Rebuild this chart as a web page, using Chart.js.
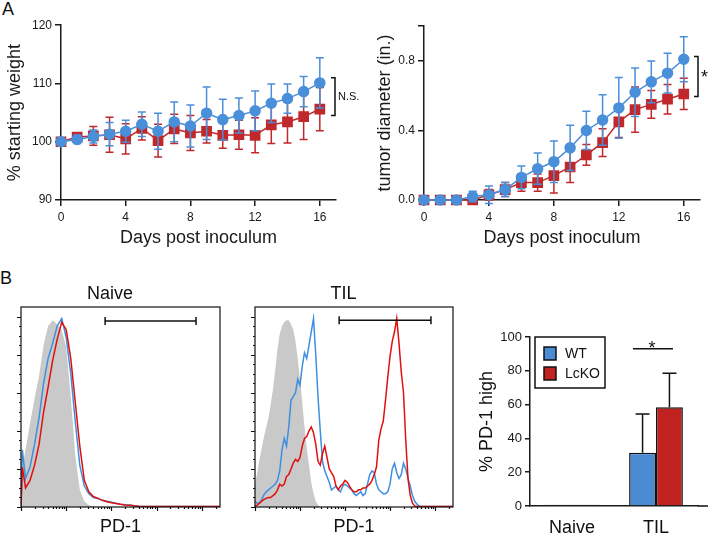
<!DOCTYPE html>
<html>
<head>
<meta charset="utf-8">
<script src="https://cdn.jsdelivr.net/npm/chart.js@4.4.1/dist/chart.umd.min.js"></script>
<style>
html, body { margin: 0; padding: 0; background: #fff; width: 711px; height: 534px; overflow: hidden; }
.pane { position: absolute; }
.tag { position: absolute; font: 18px "Liberation Sans", Arial, sans-serif; line-height: 1; color: #111; }
</style>
</head>
<body>
<div class="tag" style="left:2px;top:0px">A</div>
<div class="tag" style="left:0px;top:269px">B</div>
<div class="pane" style="left:0;top:15px;width:372px;height:235px"><canvas id="weight"></canvas></div>
<div class="pane" style="left:370px;top:16px;width:341px;height:234px"><canvas id="tumor"></canvas></div>
<div class="pane" style="left:0;top:280px;width:240px;height:261px"><canvas id="naive"></canvas></div>
<div class="pane" style="left:234px;top:280px;width:240px;height:261px"><canvas id="til"></canvas></div>
<div class="pane" style="left:470px;top:320px;width:241px;height:220px"><canvas id="pd1"></canvas></div>
<script>
// ---- panel A: weight and tumor growth ----
const days = [0, 1, 2, 3, 4, 5, 6, 7, 8, 9, 10, 11, 12, 13, 14, 15, 16];
const weightWT = [100, 100.4, 100.9, 101.3, 101.8, 103.0, 101.8, 103.4, 102.7, 104.9, 103.8, 104.5, 105.3, 106.6, 107.4, 108.6, 110.1];
const weightWTErr = [0.2, 0.7, 1.1, 2.0, 1.9, 2.1, 3.1, 3.4, 3.6, 4.5, 3.5, 3.0, 3.4, 3.3, 2.5, 2.6, 4.3];
const weightKO = [100, 100.8, 101.0, 101.2, 100.5, 102.3, 100.2, 102.2, 101.5, 101.8, 101.1, 101.2, 101.1, 102.9, 103.4, 104.3, 105.6];
const weightKOErr = [0.2, 0.6, 1.6, 3.0, 2.6, 2.0, 2.8, 2.5, 3.0, 2.0, 2.2, 2.5, 3.0, 3.2, 3.6, 3.9, 3.7];
const weightTicks = [90, 100, 110, 120];

const tumorWT = [0, 0, 0, 0.02, 0.03, 0.06, 0.13, 0.18, 0.22, 0.30, 0.40, 0.46, 0.53, 0.62, 0.68, 0.73, 0.81];
const tumorWTErr = [0, 0, 0, 0.03, 0.05, 0.04, 0.065, 0.09, 0.12, 0.13, 0.11, 0.145, 0.175, 0.14, 0.12, 0.115, 0.13];
const tumorKO = [0, 0, 0, 0, 0.03, 0.06, 0.10, 0.10, 0.14, 0.19, 0.26, 0.33, 0.45, 0.52, 0.55, 0.58, 0.61];
const tumorKOErr = [0, 0, 0, 0.01, 0.03, 0.04, 0.05, 0.05, 0.10, 0.09, 0.06, 0.08, 0.09, 0.13, 0.08, 0.085, 0.09];
const tumorTicks = [0, 0.4, 0.8, 1.0];

// ---- panel B: PD-1 histograms (x in decades, y in % of max) ----
const naiveX = [0, 0.03, 0.1, 0.2, 0.3, 0.4, 0.5, 0.6, 0.7, 0.8, 0.9, 1.0, 1.1, 1.2, 1.3, 1.4, 1.5, 1.6,
  1.7, 1.8, 1.9, 2.0, 2.1, 2.2, 2.3, 2.4, 2.5, 2.6, 2.7, 2.8, 2.9, 3.0, 4.4];
const naiveIso = [0, 21, 30, 44, 57, 69, 85, 95, 98, 96, 93, 84, 58, 27, 9, 3, 1, 0.3, 0];
const naiveWT = [0, 30, 15, 21, 33, 47, 65, 78, 86, 95, 99, 89, 70, 45, 22, 11, 7, 5,
  4.5, 3.5, 3, 2.5, 2, 1.5, 1.2, 1, 0.6, 0.4, 0.3, 0.3, 0.3, 0.3, 0.3];
const naiveKO = [0, 21, 10, 14, 22, 33, 50, 63, 77, 88, 97, 93, 78, 55, 32, 14, 8, 5.5,
  4.5, 3.5, 2.8, 2.2, 1.8, 1.4, 1.1, 0.9, 0.6, 0.4, 0.3, 0.3, 0.3, 0.3, 0.3];

const tilX = [0, 0.05, 0.1, 0.15, 0.2, 0.25, 0.3, 0.35, 0.4, 0.45,
  0.5, 0.55, 0.6, 0.65, 0.7, 0.75, 0.8, 0.85, 0.9, 0.95,
  1.0, 1.05, 1.1, 1.15, 1.2, 1.25, 1.3, 1.35, 1.4, 1.45,
  1.5, 1.55, 1.6, 1.65, 1.7, 1.75, 1.8, 1.85, 1.9, 1.95,
  2.0, 2.05, 2.1, 2.15, 2.2, 2.25, 2.3, 2.35, 2.4, 2.45,
  2.5, 2.55, 2.6, 2.65, 2.7, 2.75, 2.8, 2.85, 2.9, 2.95,
  3.0, 3.05, 3.1, 3.15, 3.2, 3.25, 3.3, 3.35, 3.4, 3.45,
  3.5, 3.55, 3.6, 3.65, 3.7, 4.4];
const tilIso = [12, 18, 25, 31, 37, 42, 47, 54, 62, 72,
  83, 91, 95, 97, 98, 98, 96, 93, 87, 78,
  67, 55, 42, 31, 22, 13, 7, 3, 1, 0];
const tilWT = [3, 2, 2, 4, 6.5, 8, 9, 10, 11, 12,
  14, 19, 30, 36, 32, 42, 56, 58, 60, 67,
  64, 74, 81, 78, 85, 92, 99, 80, 58, 40,
  24, 19, 16, 13, 9, 10, 11, 9, 8, 11,
  12, 11, 10, 9, 7, 6, 7, 8, 6, 7,
  12, 17, 19, 18, 12, 9, 8, 7, 7, 8,
  12, 20, 23, 18, 15, 17, 23, 20, 15, 11,
  6, 3, 1.5, 0.5, 0.3, 0.3];
const tilKO = [0.5, 1, 2, 3, 4, 4.5, 5, 5, 6, 7,
  9, 12, 11, 12, 16, 17, 20, 23, 25, 24,
  26, 32, 36, 37, 40, 42, 39, 33, 24, 22,
  28, 32, 26, 20, 18, 16, 11, 9, 11, 12,
  14, 13, 11, 9, 8, 8, 9, 9, 10, 10,
  11, 12, 14, 17, 21, 35, 41, 45, 56, 68,
  79, 87, 92, 99, 86, 71, 60, 35, 15, 6,
  2, 0.5, 0.3, 0.3, 0.3, 0.3];
const naiveGate = [1.86, 3.87, 97.6];
const tilGate = [1.87, 3.91, 98];

// ---- panel B: % PD-1 high ----
const groups = ['Naive', 'TIL'];
const pdWT = [0.8, 31.5];
const pdWTErr = [0, 23];
const pdKO = [0.8, 58.5];
const pdKOErr = [0, 20];
const pdTicks = [0, 20, 40, 60, 80, 100];

const BLUE = '#4a8fd9', RED = '#c0282b';
const FONT = '"Liberation Sans", Arial, sans-serif';
Chart.defaults.font.family = FONT;
Chart.defaults.color = '#1a1a1a';
Chart.defaults.animation = false;

function pts(xs, ys) { return ys.map((v, i) => ({ x: xs[i], y: v })); }

// error bars drawn just under each series
const errorBars = {
  id: 'errorBars',
  beforeDatasetDraw(chart, args) {
    const ds = chart.data.datasets[args.index];
    if (!ds.errors) return;
    const ys = chart.scales.y, ctx = chart.ctx;
    ctx.save();
    ctx.strokeStyle = ds.borderColor;
    ctx.lineWidth = 1.5;
    args.meta.data.forEach((p, i) => {
      const v = ds.data[i].y, e = ds.errors[i];
      if (!e) return;
      const t = ys.getPixelForValue(v + e), b = ys.getPixelForValue(v - e);
      ctx.beginPath();
      ctx.moveTo(p.x, t); ctx.lineTo(p.x, b);
      ctx.moveTo(p.x - 4, t); ctx.lineTo(p.x + 4, t);
      ctx.moveTo(p.x - 4, b); ctx.lineTo(p.x + 4, b);
      ctx.stroke();
    });
    ctx.restore();
  }
};

const bracket = {
  id: 'bracket',
  afterDraw(chart, args, o) {
    if (!o.from) return;
    const { ctx, chartArea: a, scales: { y } } = chart;
    const x = a.right + o.dx, t = y.getPixelForValue(o.to), b = y.getPixelForValue(o.from);
    ctx.save();
    ctx.strokeStyle = '#111'; ctx.lineWidth = 1.5;
    ctx.beginPath();
    ctx.moveTo(x - 4, t); ctx.lineTo(x, t); ctx.lineTo(x, b); ctx.lineTo(x - 4, b);
    ctx.stroke();
    ctx.fillStyle = '#111';
    ctx.font = o.size + 'px ' + FONT;
    ctx.textBaseline = 'middle';
    ctx.fillText(o.text, x + 3, (t + b) / 2 + o.dy);
    ctx.restore();
  }
};

function growthChart(id, wt, wtErr, ko, koErr, yOpt, yTitle, yWidth, padRight, br) {
  return new Chart(document.getElementById(id), {
    type: 'line',
    data: {
      datasets: [
        { label: 'WT', data: pts(days, wt), errors: wtErr, borderColor: BLUE, backgroundColor: BLUE,
          pointStyle: 'circle', pointRadius: 5, borderWidth: 1.5, clip: false },
        { label: 'LcKO', data: pts(days, ko), errors: koErr, borderColor: RED, backgroundColor: RED,
          pointStyle: 'rect', pointRadius: 6.5, borderWidth: 1.5, clip: false }
      ]
    },
    options: {
      responsive: true, maintainAspectRatio: false,
      layout: { padding: { top: 10, right: padRight, left: 0, bottom: 0 } },
      plugins: { legend: { display: false }, tooltip: { enabled: false }, bracket: br },
      scales: {
        x: {
          type: 'linear', min: 0, max: 17,
          ticks: { stepSize: 4, includeBounds: false, padding: 4, font: { size: 12 } },
          grid: { drawOnChartArea: false, tickLength: 6, color: '#1a1a1a', lineWidth: 1.5 },
          border: { color: '#1a1a1a', width: 1.5 },
          title: { display: true, text: 'Days post inoculum', font: { size: 18, lineHeight: 1.2 }, padding: { top: 0, bottom: 1 } },
          afterFit(s) { s.height = 50; }
        },
        y: Object.assign({
          grid: { drawOnChartArea: false, tickLength: 6, color: '#1a1a1a', lineWidth: 1.5 },
          border: { color: '#1a1a1a', width: 1.5 },
          title: { display: true, text: yTitle, font: { size: 18, lineHeight: 1.2 }, padding: { top: 4, bottom: 0 } },
          afterFit(s) { s.width = yWidth; }
        }, yOpt)
      }
    },
    plugins: [errorBars, bracket]
  });
}

growthChart('weight', weightWT, weightWTErr, weightKO, weightKOErr, {
  min: 90, max: 120,
  afterBuildTicks(s) { s.ticks = weightTicks.map(v => ({ value: v })); },
  ticks: { padding: 3, font: { size: 12 } }
}, '% starting weight', 61, 36, { from: 104.5, to: 111.0, dx: -1, text: 'N.S.', size: 11, dy: 0 });

growthChart('tumor', tumorWT, tumorWTErr, tumorKO, tumorKOErr, {
  min: 0, max: 1.0,
  afterBuildTicks(s) { s.ticks = tumorTicks.map(v => ({ value: v })); },
  ticks: { padding: 3, font: { size: 12 }, callback: v => v === 1 ? '' : v.toFixed(1) }
}, 'tumor diameter (in.)', 54, 11, { from: 0.596, to: 0.825, dx: -2, text: '*', size: 18, dy: 2 });

// ---- histograms ----
const flowFrame = {
  id: 'flowFrame',
  afterDatasetsDraw(chart, args, o) {
    const { ctx, chartArea: a, scales: { x, y } } = chart;
    ctx.save();
    ctx.strokeStyle = '#111'; ctx.lineWidth = 1.2;
    ctx.strokeRect(a.left, a.top, a.right - a.left, a.bottom - a.top);
    ctx.beginPath();
    for (let v = 0; v <= 100; v += 5) {
      const py = Math.round(y.getPixelForValue(v)) + 0.5, len = v % 20 === 0 ? 4 : 2;
      ctx.moveTo(a.left, py); ctx.lineTo(a.left - len, py);
    }
    for (let d = 0; d <= 4; d++) {
      for (let k = 1; k <= 9; k++) {
        const xv = d + Math.log10(k);
        if (xv > 4.4) continue;
        const px = Math.round(x.getPixelForValue(xv)) + 0.5, len = k === 1 ? 4 : 2;
        ctx.moveTo(px, a.bottom); ctx.lineTo(px, a.bottom + len);
      }
    }
    ctx.stroke();
    const g = o.gate, gy = y.getPixelForValue(g[2]);
    const x1 = x.getPixelForValue(g[0]), x2 = x.getPixelForValue(g[1]);
    ctx.lineWidth = 1.5;
    ctx.beginPath();
    ctx.moveTo(x1, gy); ctx.lineTo(x2, gy);
    ctx.moveTo(x1, gy - 4); ctx.lineTo(x1, gy + 4);
    ctx.moveTo(x2, gy - 4); ctx.lineTo(x2, gy + 4);
    ctx.stroke();
    ctx.restore();
  }
};

function histChart(id, title, xs, iso, wt, ko, gate, padRight) {
  return new Chart(document.getElementById(id), {
    type: 'line',
    data: {
      datasets: [
        { data: pts(xs, ko), borderColor: '#e0100f', borderWidth: 1.5, pointRadius: 0, fill: false },
        { data: pts(xs, wt), borderColor: '#3d8fe0', borderWidth: 1.5, pointRadius: 0, fill: false },
        { data: pts(xs, iso), borderWidth: 0, borderColor: 'rgba(0,0,0,0)', backgroundColor: '#c9c9c9', pointRadius: 0, fill: 'origin' }
      ]
    },
    options: {
      responsive: true, maintainAspectRatio: false,
      layout: { padding: { top: 0, right: padRight, left: 0, bottom: 0 } },
      plugins: {
        legend: { display: false }, tooltip: { enabled: false },
        title: { display: true, text: title, color: '#111', font: { size: 18, weight: 'normal', lineHeight: 1.2 }, padding: { top: 3, bottom: 2.4 } },
        flowFrame: { gate: gate }
      },
      scales: {
        x: {
          type: 'linear', min: 0, max: 4.4,
          ticks: { display: false }, grid: { display: false }, border: { display: false },
          title: { display: true, text: 'PD-1', color: '#111', font: { size: 18, lineHeight: 1.2 }, padding: { top: 0, bottom: 3 } },
          afterFit(s) { s.height = 34; }
        },
        y: {
          min: 0, max: 105,
          ticks: { display: false }, grid: { display: false }, border: { display: false },
          afterFit(s) { s.width = 21; }
        }
      }
    },
    plugins: [flowFrame]
  });
}

histChart('naive', 'Naive', naiveX, naiveIso, naiveWT, naiveKO, naiveGate, 20);
histChart('til', 'TIL', tilX, tilIso, tilWT, tilKO, tilGate, 21);

// ---- bar chart ----
const barExtras = {
  id: 'barExtras',
  afterDatasetsDraw(chart) {
    const { ctx, chartArea: a, scales: { y } } = chart;
    ctx.save();
    ctx.strokeStyle = '#111'; ctx.lineWidth = 1.5;
    // error bars (upper half only)
    chart.data.datasets.forEach((ds, di) => {
      chart.getDatasetMeta(di).data.forEach((bar, i) => {
        const e = ds.errors[i];
        if (!e) return;
        const t = y.getPixelForValue(ds.data[i] + e);
        ctx.beginPath();
        ctx.moveTo(bar.x, bar.y); ctx.lineTo(bar.x, t);
        ctx.moveTo(bar.x - 7, t); ctx.lineTo(bar.x + 7, t);
        ctx.stroke();
      });
    });
    // significance line over TIL
    const cx = chart.scales.x.getPixelForValue(1);
    const sy = y.getPixelForValue(93);
    ctx.beginPath(); ctx.moveTo(cx - 23, sy); ctx.lineTo(cx + 17, sy); ctx.stroke();
    ctx.fillStyle = '#111';
    ctx.font = '18px ' + FONT;
    ctx.textAlign = 'center'; ctx.textBaseline = 'alphabetic';
    ctx.fillText('*', cx - 4, sy + 5);
    // axis continues a little past the plot
    ctx.beginPath(); ctx.moveTo(a.right, a.bottom); ctx.lineTo(a.right + 10, a.bottom); ctx.stroke();
    // legend box
    const lx = a.left + 5, ly = a.top;
    ctx.lineWidth = 1.5;
    ctx.strokeRect(lx, ly, 70, 51);
    ctx.font = '14px ' + FONT;
    ctx.textAlign = 'left'; ctx.textBaseline = 'middle';
    chart.data.datasets.forEach((ds, di) => {
      const sy2 = ly + 10 + di * 20;
      ctx.fillStyle = ds.backgroundColor;
      ctx.fillRect(lx + 9, sy2, 12, 13);
      ctx.strokeRect(lx + 9, sy2, 12, 13);
      ctx.fillStyle = '#111';
      ctx.fillText(ds.label, lx + 30, sy2 + 7);
    });
    ctx.restore();
  }
};

new Chart(document.getElementById('pd1'), {
  type: 'bar',
  data: {
    labels: groups,
    datasets: [
      { label: 'WT', data: pdWT, errors: pdWTErr, backgroundColor: '#4a8bd4', borderColor: '#111', borderWidth: 1.5 },
      { label: 'LcKO', data: pdKO, errors: pdKOErr, backgroundColor: '#c0231f', borderColor: '#111', borderWidth: 1.5 }
    ]
  },
  options: {
    responsive: true, maintainAspectRatio: false,
    layout: { padding: { top: 17, right: 13, left: 0, bottom: 0 } },
    datasets: { bar: { categoryPercentage: 0.64, barPercentage: 1.0 } },
    plugins: { legend: { display: false }, tooltip: { enabled: false } },
    scales: {
      x: {
        ticks: { padding: 3, color: '#111', font: { size: 18 } },
        grid: { display: false },
        border: { color: '#1a1a1a', width: 1.5 },
        afterFit(s) { s.height = 34; }
      },
      y: {
        min: 0, max: 100,
        afterBuildTicks(s) { s.ticks = pdTicks.map(v => ({ value: v })); },
        ticks: { padding: 3, font: { size: 13 } },
        grid: { drawOnChartArea: false, tickLength: 5, color: '#1a1a1a', lineWidth: 1.5 },
        border: { color: '#1a1a1a', width: 1.5 },
        title: { display: true, text: '% PD-1 high', color: '#111', font: { size: 18, lineHeight: 1.2 }, padding: { top: 6, bottom: 0 } },
        afterFit(s) { s.width = 60; }
      }
    }
  },
  plugins: [barExtras]
});
</script>
</body>
</html>
